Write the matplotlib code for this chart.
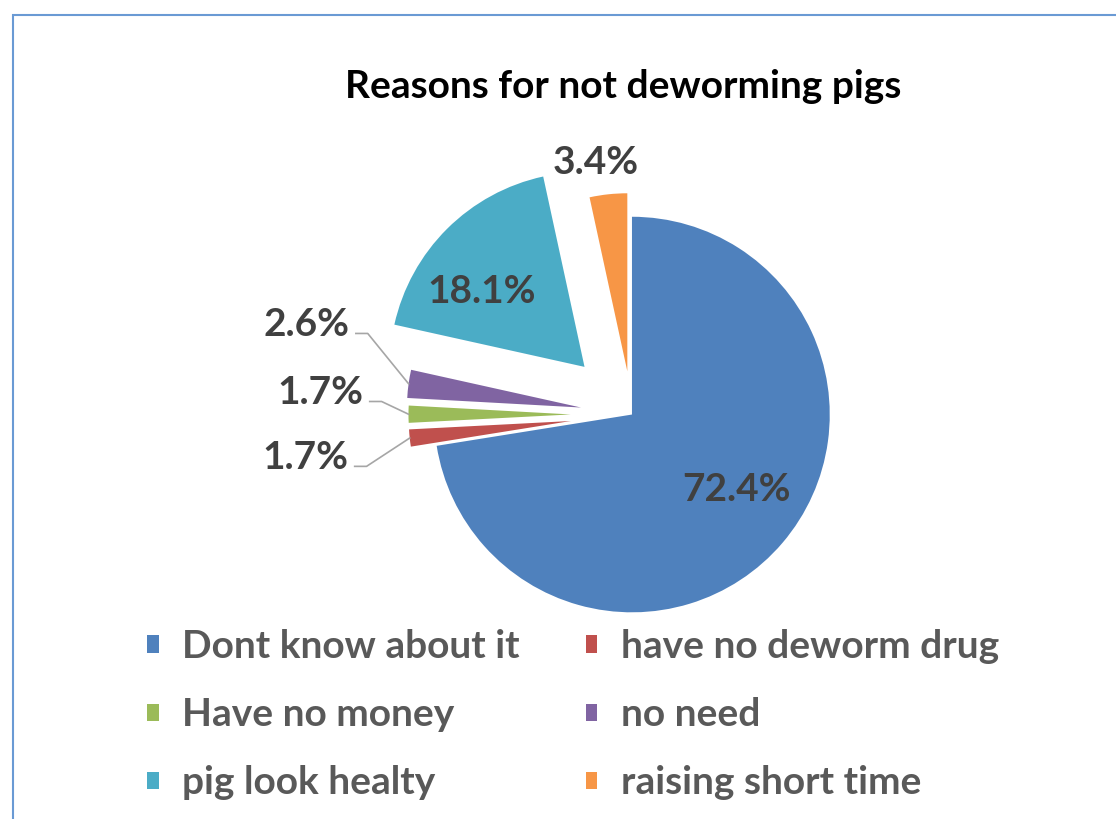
import numpy as np
import matplotlib.pyplot as plt
from matplotlib.patches import Rectangle

plt.rcParams['font.family'] = ['Lato', 'DejaVu Sans']

# data
categories = ['Dont know about it', 'have no deworm drug', 'Have no money',
              'no need', 'pig look healty', 'raising short time']
shares = [72.4, 1.7, 1.7, 2.6, 18.1, 3.4]
colors = ['#4F81BD', '#C0504D', '#9BBB59', '#8064A2', '#4BACC6', '#F79646']
explode = [0, 0.31, 0.31, 0.26, 0.34, 0.22]
radii = [1.0, 0.82, 0.82, 0.88, 0.985, 0.9]

# label placement (data units, pie radius = 1)
label_pos = [(0.53, -0.38), (-1.652, -0.217), (-1.576, 0.111),
             (-1.646, 0.455), (-0.758, 0.621), (-0.182, 1.273)]
leader = [False, True, True, True, False, False]

fig = plt.figure(figsize=(11.16, 8.19), dpi=100)
ax = fig.add_axes([0, 0, 1, 1])

wedges, _ = ax.pie(shares, colors=colors, explode=explode, startangle=90,
                   counterclock=False, wedgeprops=dict(linewidth=0))
for w, r in zip(wedges, radii):
    w.set_radius(r)

ax.set_xlim(-3.192, 2.444)
ax.set_ylim(-2.045, 2.096)
ax.axis('off')

for w, s, (lx, ly), ld in zip(wedges, shares, label_pos, leader):
    ax.text(lx, ly, f'{s:.1f}%', ha='center', va='center', fontsize=28,
            fontweight='bold', color='#404040')
    if ld:
        mid = np.deg2rad((w.theta1 + w.theta2) / 2)
        cx, cy = w.center
        ex, ey = cx + w.r * np.cos(mid), cy + w.r * np.sin(mid)
        ax.plot([lx + 0.25, lx + 0.31, ex], [ly - 0.045, ly - 0.045, ey],
                color='#A6A6A6', lw=1.2)

fig.text(0.558, 1 - 86 / 819, 'Reasons for not deworming pigs', ha='center',
         va='center', fontsize=28, fontweight='bold', color='black')

# legend reads row by row in the original, matplotlib fills by column
order = [0, 2, 4, 1, 3, 5]
leg = fig.legend([wedges[i] for i in order], [categories[i] for i in order],
                 ncol=2, loc='upper left',
                 bbox_to_anchor=(147 / 1116, 1 - 629 / 819), frameon=False,
                 borderpad=0, borderaxespad=0, handlelength=0.3,
                 handleheight=0.3, handletextpad=0.6, columnspacing=1.7,
                 labelspacing=0.85, prop=dict(size=28, weight='bold'))
for t in leg.get_texts():
    t.set_color('#595959')

# chart border (only top and left visible)
fig.patches.append(Rectangle((13 / 1116, -0.1), 1.2, 1.1 - 15 / 819,
                             transform=fig.transFigure, fill=False,
                             edgecolor='#6A9AD4', lw=1.5))

fig.savefig('out.png', dpi=100)
